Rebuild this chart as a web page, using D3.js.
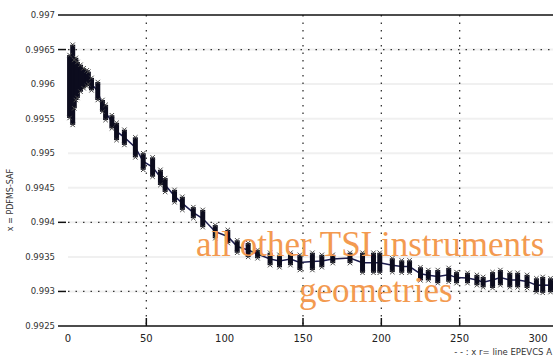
<!DOCTYPE html>
<html>
<head>
<meta charset="utf-8">
<script src="https://cdn.jsdelivr.net/npm/d3@7"></script>
<style>
    body { margin: 0; background: #fff; }
    svg { display: block; }
</style>
</head>
<body>
<script>
// days since start, and upper / lower ends of each measurement cluster
let days = [1, 3, 4, 5, 6, 8, 10, 12, 13, 15, 19, 22, 24, 28, 31, 36, 43, 48, 54, 59,
    62, 68, 73, 80, 86, 94, 102, 108, 115, 121, 129, 135, 142, 148, 156, 162, 169, 180, 188, 195,
    199, 207, 213, 218, 225, 230, 236, 243, 248, 255, 261, 265, 271, 276, 282, 287, 293, 299, 303, 308];
let hiVals = [.99642, .99657, .99635, .99638, .99632, .99628, .99623, .99620, .99618, .99609,
    .99603, .99577, .99570, .99555, .99544, .99534, .99523, .99500, .99494, .99476,
    .99464, .99447, .99437, .99422, .99418, .99396, .99389, .99374, .99370, .99360,
    .99356, .99353, .99356, .99353, .99356, .99353, .99353, .99356, .99356, .99356,
    .99356, .99348, .99345, .99345, .99335, .99331, .99331, .99334, .99328, .99327,
    .99324, .99321, .99328, .99331, .99327, .99327, .99324, .99319, .99321, .99319];
let loVals = [.99551, .99541, .99565, .99577, .99580, .99589, .99594, .99597, .99600, .99591,
    .99577, .99560, .99548, .99536, .99519, .99512, .99494, .99476, .99466, .99454,
    .99444, .99429, .99418, .99406, .99393, .99377, .99370, .99356, .99350, .99348,
    .99338, .99335, .99338, .99331, .99331, .99335, .99341, .99341, .99327, .99327,
    .99327, .99328, .99327, .99327, .99316, .99316, .99312, .99314, .99312, .99312,
    .99309, .99306, .99305, .99309, .99306, .99306, .99305, .99299, .99298, .99299];

let yTicks = [0.997, 0.9965, 0.996, 0.9955, 0.995, 0.9945, 0.994, 0.9935, 0.993, 0.9925];
let yTickLabels = ["0.997", "0.9965", "0.996", "0.9955", "0.995", "0.9945", "0.994", "0.9935", "0.993", "0.9925"];
let yGrid = [0.9965, 0.994, 0.993];
let xTicks = [0, 50, 100, 150, 200, 250, 300];
let xGrid = [50, 150, 200, 250];
let overlay = ["all other TSI instruments", "geometries"];

let width = 553, height = 358;
let svg = d3.select("body").append("svg")
    .attr("width", width)
    .attr("height", height);

let x = d3.scaleLinear().domain([0, 300]).range([68, 538]);
let y = d3.scaleLinear().domain([0.9925, 0.997]).range([326, 15]);

// faint scan-like bands at every tick
svg.append("g").selectAll("line")
    .data(yTicks.slice(1, -1))
    .join("line")
    .attr("x1", 68).attr("x2", width)
    .attr("y1", d => y(d)).attr("y2", d => y(d))
    .attr("stroke", "#f0f0f0")
    .attr("stroke-width", 2);

// dotted grid
svg.append("g").selectAll("line")
    .data(yGrid)
    .join("line")
    .attr("x1", 68).attr("x2", width)
    .attr("y1", d => y(d)).attr("y2", d => y(d))
    .attr("stroke", "#333")
    .attr("stroke-width", 1.3)
    .attr("stroke-dasharray", "1.5,6");
svg.append("g").selectAll("line")
    .data(xGrid)
    .join("line")
    .attr("x1", d => x(d)).attr("x2", d => x(d))
    .attr("y1", 15).attr("y2", 326)
    .attr("stroke", "#333")
    .attr("stroke-width", 1.3)
    .attr("stroke-dasharray", "1.5,6");

// frame top + bottom axis
svg.append("line")
    .attr("x1", 58).attr("x2", width)
    .attr("y1", y(0.997)).attr("y2", y(0.997))
    .attr("stroke", "#111").attr("stroke-width", 1.5);
svg.append("line")
    .attr("x1", 58).attr("x2", width)
    .attr("y1", y(0.9925)).attr("y2", y(0.9925))
    .attr("stroke", "#111").attr("stroke-width", 1.5);

// y tick dashes
svg.append("g").selectAll("line")
    .data(yGrid)
    .join("line")
    .attr("x1", 58).attr("x2", 66)
    .attr("y1", d => y(d)).attr("y2", d => y(d))
    .attr("stroke", "#111").attr("stroke-width", 1.5);

// x tick marks
svg.append("g").selectAll("line")
    .data(xGrid)
    .join("line")
    .attr("x1", d => x(d)).attr("x2", d => x(d))
    .attr("y1", 318).attr("y2", 326)
    .attr("stroke", "#111").attr("stroke-width", 1.5);

// tick labels
svg.append("g").selectAll("text")
    .data(yTicks)
    .join("text")
    .attr("x", 55)
    .attr("y", d => y(d) + 3)
    .attr("text-anchor", "end")
    .attr("font-family", "DejaVu Sans")
    .attr("font-size", 8.5)
    .attr("fill", "#333")
    .text((d, i) => yTickLabels[i]);
svg.append("g").selectAll("text")
    .data(xTicks)
    .join("text")
    .attr("x", d => x(d))
    .attr("y", 342)
    .attr("text-anchor", "middle")
    .attr("font-family", "DejaVu Sans")
    .attr("font-size", 10)
    .attr("fill", "#222")
    .text(d => d);

// axis titles
svg.append("text")
    .attr("transform", "translate(13,200) rotate(-90)")
    .attr("text-anchor", "middle")
    .attr("font-family", "DejaVu Sans")
    .attr("font-size", 8)
    .attr("fill", "#333")
    .text("x = PDFMS-SAF");
svg.append("text")
    .attr("x", 552)
    .attr("y", 355)
    .attr("text-anchor", "end")
    .attr("font-family", "DejaVu Sans")
    .attr("font-size", 8.5)
    .attr("fill", "#333")
    .text("- - :  x  r= line  EPEVCS  A");

// mean line
let line = d3.line()
    .x((d, i) => x(days[i]))
    .y((d, i) => y((hiVals[i] + loVals[i]) / 2));
svg.append("path")
    .datum(days)
    .attr("fill", "none")
    .attr("stroke", "#1c1c4e")
    .attr("stroke-width", 1.5)
    .attr("d", line);

// measurement bars
svg.append("g").selectAll("rect")
    .data(days)
    .join("rect")
    .attr("x", d => x(d) - 2.5)
    .attr("width", 5)
    .attr("y", (d, i) => y(hiVals[i]))
    .attr("height", (d, i) => y(loVals[i]) - y(hiVals[i]))
    .attr("fill", "#0c0c1e");

// x markers at cluster ends
let ends = [];
days.forEach((d, i) => {
    ends.push([d, hiVals[i]]);
    ends.push([d, loVals[i]]);
});
svg.append("g").selectAll("path")
    .data(ends)
    .join("path")
    .attr("d", d => {
        let cx = x(d[0]), cy = y(d[1]), s = 2.2;
        return `M${cx-s},${cy-s}L${cx+s},${cy+s}M${cx-s},${cy+s}L${cx+s},${cy-s}`;
    })
    .attr("stroke", "#444")
    .attr("stroke-width", 1);

// orange overlay text
svg.append("text")
    .attr("x", 196)
    .attr("y", 256)
    .attr("font-family", "Liberation Serif")
    .attr("font-size", 35)
    .attr("fill", "#f39a50")
    .text(overlay[0]);
svg.append("text")
    .attr("x", 299)
    .attr("y", 302)
    .attr("font-family", "Liberation Serif")
    .attr("font-size", 35)
    .attr("fill", "#f39a50")
    .text(overlay[1]);
</script>
</body>
</html>
